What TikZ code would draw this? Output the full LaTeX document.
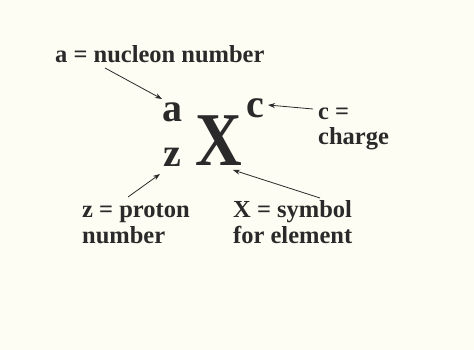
\documentclass[tikz,border=0pt]{standalone}
\usepackage{fontspec}
\setmainfont{Liberation Serif}
\usetikzlibrary{arrows.meta}
\definecolor{bgc}{HTML}{FDFDF3}
\definecolor{ink}{HTML}{2A2A2A}
\tikzset{
  lbl/.style={inner sep=0pt, anchor=base west, text=ink, font=\bfseries\fontsize{24.5}{28}\selectfont, align=left},
  big/.style={inner sep=0pt, anchor=base west, text=ink, font=\bfseries\fontsize{40}{40}\selectfont},
  arr/.style={draw=ink, line width=0.8pt, -{Stealth[length=7pt,width=5pt]}}
}
\begin{document}
\begin{tikzpicture}[x=1pt,y=-1pt]
\fill[bgc] (0,0) rectangle (474,350);
\useasboundingbox (0,0) rectangle (474,350);
\node[lbl] (la) at (55,63) {a = nucleon number};
\node[big] (a) at (162,122) {a};
\node[big] (z) at (163,167) {z};
\node[inner sep=0pt, anchor=base west, text=ink, xscale=0.85, font=\bfseries\fontsize{76}{76}\selectfont] (X) at (195,165) {X};
\node[big] (c) at (246,118) {c};
\node[lbl] (lc) at (318,120) {c =};
\node[lbl] (lc2) at (318,145) {charge};
\node[lbl] (lz) at (82,217) {z = proton};
\node[lbl] (lz2) at (82,243) {number};
\node[lbl] (lx) at (233,217) {X = symbol};
\node[lbl] (lx2) at (233,243) {for element};
\coordinate (ta) at (105,68);
\coordinate (ha) at (162,99);
\coordinate (tc) at (313,109);
\coordinate (hc) at (268,105);
\coordinate (tz) at (128,197);
\coordinate (hz) at (160,174);
\coordinate (tx) at (320,198);
\coordinate (hx) at (233,170);
\draw[arr] (ta) -- (ha);
\draw[arr] (tc) -- (hc);
\draw[arr] (tz) -- (hz);
\draw[arr] (tx) -- (hx);
\end{tikzpicture}
\end{document}
